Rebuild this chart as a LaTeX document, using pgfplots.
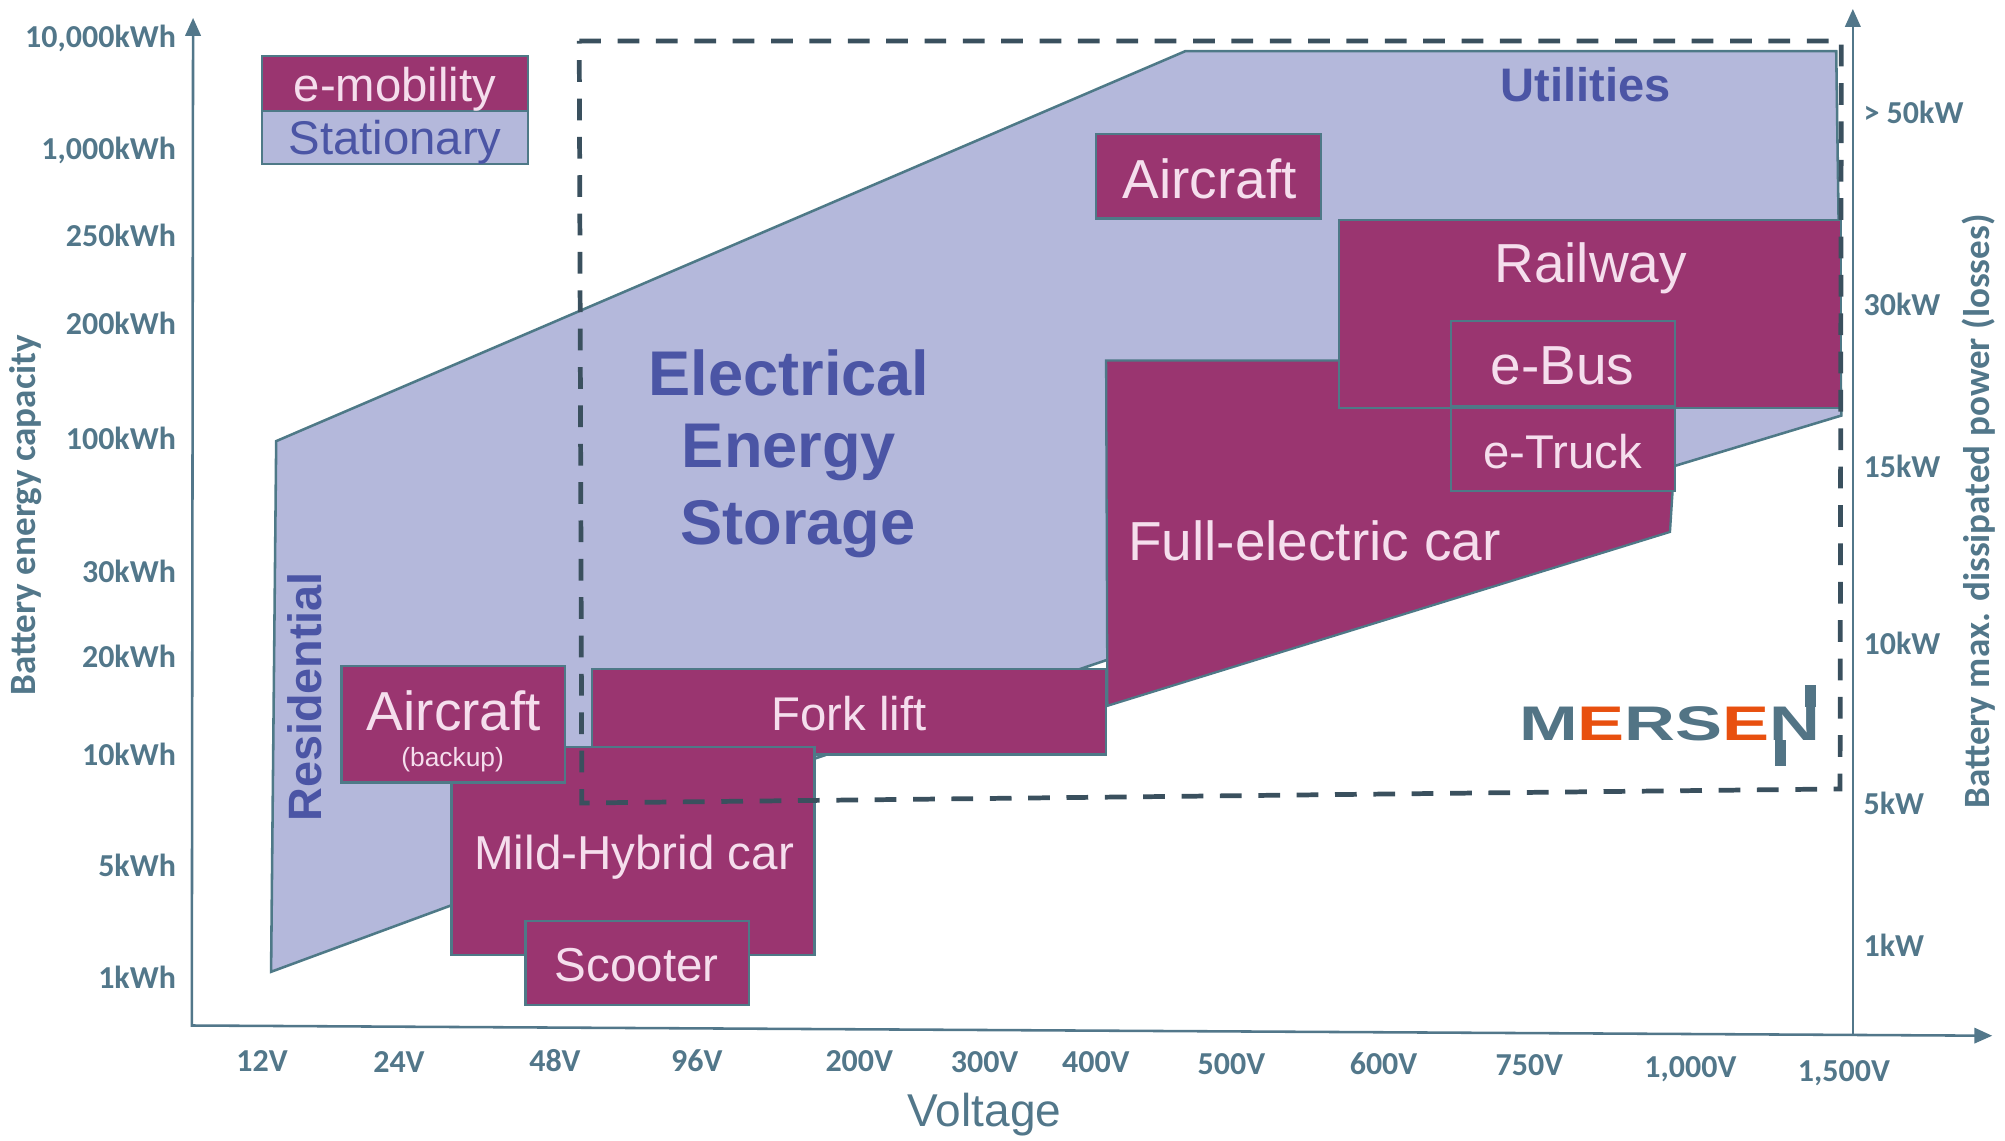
\documentclass[border=0pt]{standalone}
\usepackage{fontspec}
\setmainfont{Liberation Sans}
\newfontfamily\carlito{Carlito}
\newfontfamily\logofont[FakeStretch=1.45]{Liberation Sans}
\usepackage{pgfplots}
\pgfplotsset{compat=1.18}
\usetikzlibrary{arrows.meta}
\definecolor{mag}{RGB}{154,53,112}
\definecolor{lav}{RGB}{180,184,219}
\definecolor{edge}{RGB}{78,121,135}
\definecolor{axc}{RGB}{82,119,138}
\definecolor{blu}{RGB}{75,85,165}
\definecolor{pnk}{RGB}{245,222,237}
\definecolor{dsh}{RGB}{58,80,94}
\definecolor{orng}{RGB}{232,80,15}
\definecolor{logog}{RGB}{82,116,133}
\newcommand{\fsz}[1]{\fontsize{#1pt}{#1pt}\selectfont}
\newcommand{\lw}[2]{\raisebox{-#1pt}{#2}}
\begin{document}
\begin{tikzpicture}
\begin{axis}[
  x=0.5pt, y=0.5pt,
  xmin=150, xmax=1449, ymin=86, ymax=874,
  clip=false,
  axis line style={draw=none},
  major tick length=0pt,
  xtick={205,312,434,545,672,770,857,963,1082,1196,1322,1442},
  xticklabels={12V,\lw{0.5}{24V},48V,96V,200V,\lw{0.5}{300V},\lw{0.5}{400V},\lw{1}{500V},\lw{1}{600V},\lw{1.5}{750V},\lw{2.5}{1,000V},\lw{4}{1,500V}},
  ytick={128,215,302,379,445,549,639,708,774,862},
  yticklabels={1kWh,5kWh,10kWh,20kWh,30kWh,100kWh,200kWh,250kWh,{1,000kWh},{10,000kWh}},
  tick label style={font=\carlito\bfseries\fsz{12.5}, text=axc},
  xticklabel style={anchor=base, inner sep=0pt, yshift=-16pt},
  yticklabel style={anchor=east, inner sep=0pt, xshift=-6pt},
]
\coordinate (bbA) at (axis cs:0,0);
\coordinate (bbB) at (axis cs:1568,892);

% Stationary region
\addplot[fill=lav, draw=edge, line width=1pt] coordinates {
 (216,547) (927,852) (1436,852) (1440,567) (1311,528) (866,376) (638,299) (353,184) (212,132)} -- cycle;

% legend
\addplot[fill=mag, draw=edge, line width=0.9pt] coordinates {(205,805) (413,805) (413,848) (205,848)} -- cycle;
\addplot[fill=lav, draw=edge, line width=0.9pt] coordinates {(205,764) (413,764) (413,805) (205,805)} -- cycle;

% e-mobility boxes
\addplot[fill=mag, draw=edge, line width=0.9pt] coordinates {(463,302) (865,302) (865,369) (463,369)} -- cycle; % fork lift
\addplot[fill=mag, draw=edge, line width=0.9pt] coordinates {(353,145) (637,145) (637,308) (353,308)} -- cycle; % mild hybrid
\addplot[fill=mag, draw=edge, line width=0.9pt] coordinates {(267,280) (442,280) (442,371) (267,371)} -- cycle; % aircraft backup
\addplot[fill=mag, draw=edge, line width=0.9pt] coordinates {(411,106) (586,106) (586,172) (411,172)} -- cycle; % scooter
\addplot[fill=mag, draw=edge, line width=0.9pt] coordinates {(865,610) (1308,610) (1308,507) (1306,476) (866,340)} -- cycle; % full electric car
\addplot[fill=mag, draw=edge, line width=0.9pt] coordinates {(1047,573) (1440,573) (1440,720) (1047,720)} -- cycle; % railway
\addplot[fill=mag, draw=edge, line width=0.9pt] coordinates {(1135,574) (1310,574) (1310,641) (1135,641)} -- cycle; % e-bus
\addplot[fill=mag, draw=edge, line width=0.9pt] coordinates {(1135,508) (1310,508) (1310,573) (1135,573)} -- cycle; % e-truck
\addplot[fill=mag, draw=edge, line width=0.9pt] coordinates {(857,721) (1033,721) (1033,787) (857,787)} -- cycle; % aircraft

% dashed frame
\addplot[draw=dsh, line width=1.85pt, dash pattern=on 8.5pt off 6.5pt] coordinates {(453,860) (1440,860) (1439,275) (455,264)} -- cycle;

% axes
\draw[axc, line width=1pt, -{Triangle[length=7pt,width=6pt]}] (axis cs:150,89) -- (axis cs:151,878);
\draw[axc, line width=1pt, -{Triangle[length=7pt,width=6pt]}] (axis cs:150,90) -- (axis cs:1558,82);
\draw[axc, line width=1pt, -{Triangle[length=7pt,width=6pt]}] (axis cs:1449,83) -- (axis cs:1449,885);

% texts
\node[text=pnk, font=\fsz{18.5}] at (axis cs:309,822) {e-mobility};
\node[text=blu, font=\fsz{18.5}] at (axis cs:309,781) {Stationary};
\node[text=blu, font=\bfseries\fsz{18.4}] at (axis cs:1240,826) {Utilities};
\node[text=blu, font=\bfseries\fsz{24.7}] at (axis cs:617,600) {Electrical};
\node[text=blu, font=\bfseries\fsz{24.7}] at (axis cs:617,538) {Energy};
\node[text=blu, font=\bfseries\fsz{24.7}] at (axis cs:624,478) {Storage};
\node[text=blu, font=\bfseries\fsz{18.3}, rotate=90] at (axis cs:238,347) {Residential};
\node[text=pnk, font=\fsz{21.5}] at (axis cs:946,752) {Aircraft};
\node[text=pnk, font=\fsz{21.5}] at (axis cs:1244,682) {Railway};
\node[text=pnk, font=\fsz{21.5}] at (axis cs:1222,606) {e-Bus};
\node[text=pnk, font=\fsz{18.5}] at (axis cs:1222,539) {e-Truck};
\node[text=pnk, font=\fsz{21.5}] at (axis cs:1028,469) {Full-electric car};
\node[text=pnk, font=\fsz{18.5}] at (axis cs:664,334) {Fork lift};
\node[text=pnk, font=\fsz{21.5}] at (axis cs:355,336) {Aircraft};
\node[text=pnk, font=\fsz{10.3}] at (axis cs:354,298) {(backup)};
\node[text=pnk, font=\fsz{18.6}] at (axis cs:496,222) {Mild-Hybrid car};
\node[text=pnk, font=\fsz{18.6}] at (axis cs:498,137) {Scooter};

% logo
\node[font=\logofont\bfseries\fsz{19}, inner sep=0pt] at (axis cs:1306,326) {\textcolor{logog}{M}\textcolor{orng}{E}\textcolor{logog}{RS}\textcolor{orng}{E}\textcolor{logog}{N}};
\fill[logog] (axis cs:1388,293) rectangle (axis cs:1396.4,313);
\fill[logog] (axis cs:1411.5,339) rectangle (axis cs:1419.8,356);

% axis titles
\node[text=axc, font=\fsz{18}] at (axis cs:770,20) {Voltage};
\node[text=axc, font=\carlito\bfseries\fsz{14.5}, rotate=90] at (axis cs:20,489) {Battery energy capacity};
\node[text=axc, font=\carlito\bfseries\fsz{14.5}, rotate=90] at (axis cs:1547,492) {Battery max. dissipated power (losses)};
\end{axis}
\begin{axis}[
  x=0.5pt, y=0.5pt,
  xmin=150, xmax=1449, ymin=86, ymax=874,
  axis line style={draw=none},
  major tick length=0pt,
  xtick=\empty,
  yticklabel pos=right,
  ytick={153,264,389,527,654,804},
  yticklabels={1kW,5kW,10kW,15kW,30kW,{> 50kW}},
  tick label style={font=\carlito\bfseries\fsz{12.5}, text=axc},
  yticklabel style={anchor=west, inner sep=0pt, xshift=4pt},
]
\end{axis}
\pgfresetboundingbox
\path[use as bounding box] (bbA) rectangle (bbB);
\end{tikzpicture}
\end{document}
